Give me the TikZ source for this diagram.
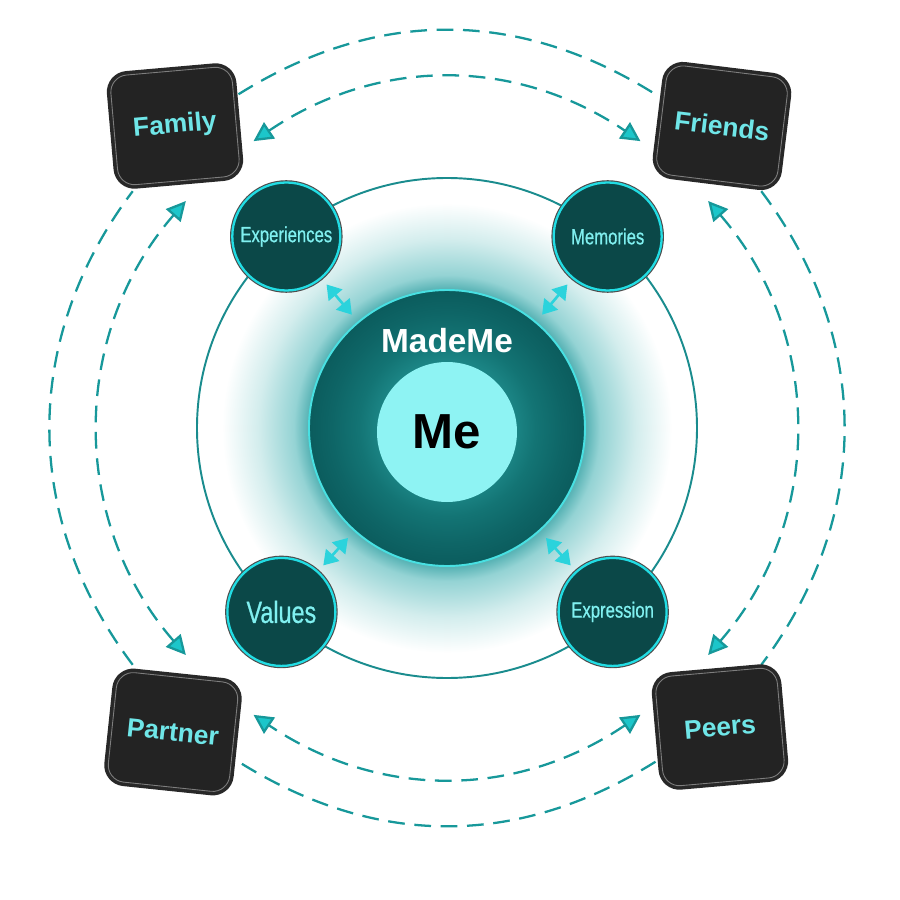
\documentclass[tikz,border=0pt]{standalone}
\usepackage{fontspec}
\setmainfont{Liberation Sans}
\newfontfamily\narrowfont[FakeStretch=0.76, FakeBold=0.6]{Liberation Sans}
\usetikzlibrary{arrows.meta,positioning}

\definecolor{linkteal}{HTML}{17989A}
\definecolor{tipcyan}{HTML}{1CC6CA}
\definecolor{ringteal}{HTML}{1A8C8E}
\definecolor{boxdark}{HTML}{232323}
\definecolor{boxrim}{HTML}{282828}
\definecolor{boxline}{HTML}{7E7E7E}
\definecolor{boxtext}{HTML}{6FE6E8}
\definecolor{orbfill}{HTML}{0B4848}
\definecolor{orbedge}{HTML}{22DDE4}
\definecolor{orbtext}{HTML}{80F0F0}
\definecolor{coreedge}{HTML}{48E0E2}
\definecolor{mefill}{HTML}{8EF3F3}
\definecolor{duocyan}{HTML}{2BD3DC}
\definecolor{glowA}{HTML}{5AB4B6}
\definecolor{glowB}{HTML}{94D3D4}
\definecolor{glowC}{HTML}{D3EDED}
\definecolor{coreA}{HTML}{2A9C9C}
\definecolor{coreB}{HTML}{1B8484}
\definecolor{coreM}{HTML}{137474}
\definecolor{coreC}{HTML}{0E6566}
\definecolor{coreD}{HTML}{0B5C5D}

% path radius is 25bp
\pgfdeclareradialshading{coreglow}{\pgfpoint{0bp}{0bp}}{color(0bp)=(glowA); color(15.5bp)=(glowA); color(17bp)=(glowB); color(21bp)=(glowC); color(25bp)=(white); color(50bp)=(white)}
\pgfdeclareradialshading{corefill}{\pgfpoint{0bp}{0bp}}{color(0bp)=(coreA); color(12.5bp)=(coreB); color(16bp)=(coreM); color(21bp)=(coreC); color(25bp)=(coreD); color(50bp)=(coreD)}

\begin{document}
\begin{tikzpicture}[
	box/.style={rounded corners=0.34cm, minimum width=2.44cm, minimum height=2.2cm, fill=boxdark, draw=boxline, line width=0.5pt, text=boxtext, font=\bfseries\fontsize{15}{18}\selectfont, preaction={draw=boxrim, line width=0.16cm}},
	orb/.style={circle, minimum size=2.16cm, inner sep=0pt, fill=orbfill, draw=orbedge, line width=1.3pt, text=orbtext, font=\narrowfont\fontsize{12.5}{14}\selectfont, preaction={draw=black!70, line width=2.6pt}},
	core/.style={circle, minimum size=5.52cm, inner sep=0pt, shade, shading=corefill, draw=coreedge, line width=1.1pt},
	outerlink/.style={draw=linkteal, line width=1.3pt, dash pattern=on 9.5pt off 5.5pt},
	innerlink/.style={outerlink, {Triangle[length=11pt,width=11pt,fill=tipcyan]}-{Triangle[length=11pt,width=11pt,fill=tipcyan]}},
	duo/.style={draw=duocyan, line width=1.5pt, {Triangle[length=8pt,width=10pt]}-{Triangle[length=8pt,width=10pt]}, shorten <=0.15cm, shorten >=0.18cm}
	]
	\useasboundingbox (-8.94,-9.44) rectangle (9.06,8.56);

	% glow and ring
	\shade[shading=coreglow] (0,0) circle (4.5);
	\draw[ringteal, line width=1.1pt] (0,0) circle (5);

	% ends of the links
	\coordinate (fa1) at (122:7.87); \coordinate (fr1) at (58:7.87);
	\coordinate (fr2) at (37:7.87);  \coordinate (pe2) at (323:7.87);
	\coordinate (pe3) at (302:7.87); \coordinate (pa3) at (238:7.87);
	\coordinate (pa4) at (217:7.87); \coordinate (fa4) at (143:7.87);
	\coordinate (fa5) at (124:6.92); \coordinate (fr5) at (56:6.92);
	\coordinate (fr6) at (41:6.92);  \coordinate (pe6) at (319:6.92);
	\coordinate (pe7) at (304:6.92); \coordinate (pa7) at (236:6.92);
	\coordinate (pa8) at (221:6.92); \coordinate (fa8) at (139:6.92);

	\draw[outerlink] (fa1) to[bend left=32] (fr1);
	\draw[outerlink] (fr2) to[bend left=37] (pe2);
	\draw[outerlink] (pe3) to[bend left=32] (pa3);
	\draw[outerlink] (pa4) to[bend left=37] (fa4);
	\draw[innerlink] (fa5) to[bend left=34] (fr5);
	\draw[innerlink] (fr6) to[bend left=41] (pe6);
	\draw[innerlink] (pe7) to[bend left=34] (pa7);
	\draw[innerlink] (pa8) to[bend left=41] (fa8);

	% people
	\node[box, rotate=5] (family) at (-5.44,6.04) {Family};
	\node[box, rotate=-7] (friends) at (5.5,6.04) {Friends};
	\node[box, rotate=-6] (partner) at (-5.48,-6.08) {Partner};
	\node[box, rotate=5] (peers) at (5.46,-5.98) {Peers};

	% what shaped me
	\node[orb] (exper) at (130:5) {Experiences};
	\node[orb] (memor) at (50:5) {Memories};
	\node[orb, font=\narrowfont\fontsize{17.5}{20}\selectfont] (vals) at (228:4.95) {Values};
	\node[orb] (expr) at (312:4.95) {Expression};

	\node[core] (made) at (0,0) {};
	\node[circle, minimum size=2.8cm, fill=mefill, font=\bfseries\fontsize{28}{32}\selectfont] (me) at (0,-0.08) {Me};
	\node[text=white, font=\bfseries\fontsize{19}{22}\selectfont] (madelbl) at (0,1.74) {MadeMe};

	\draw[duo] (exper) -- (made);
	\draw[duo] (memor) -- (made);
	\draw[duo] (vals) -- (made);
	\draw[duo] (expr) -- (made);

\end{tikzpicture}
\end{document}
